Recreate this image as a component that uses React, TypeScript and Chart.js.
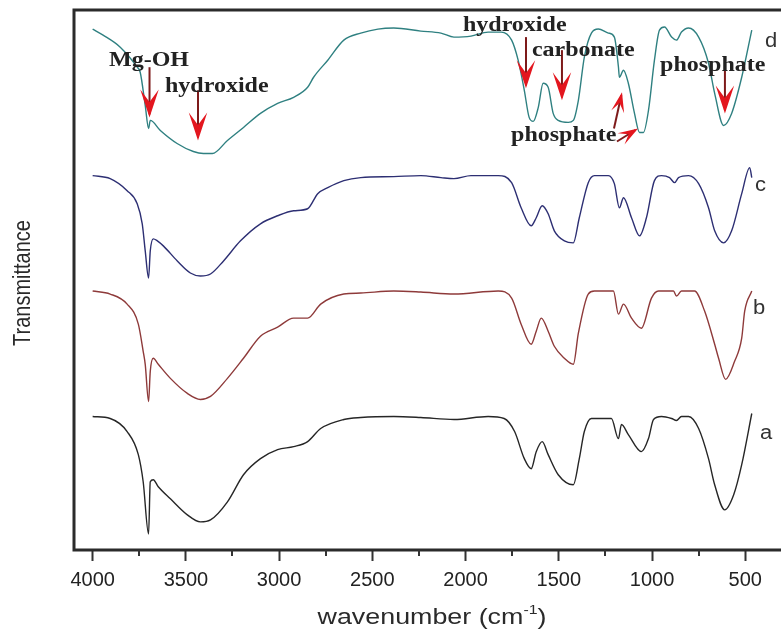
import React, { useEffect, useRef } from 'react';
import { Chart, registerables } from 'chart.js';

Chart.register(...registerables);

// FTIR spectra: wavenumber (cm-1) and offset transmittance for samples a–d
const wavenumberA = [4000, 3906, 3815, 3755, 3729, 3700, 3691, 3675, 3648, 3583, 3492, 3422, 3368, 3277, 3191, 3100, 3008, 2922, 2847, 2777, 2653, 2562, 2385, 2240, 2062, 1879, 1793, 1737, 1685, 1648, 1621, 1589, 1557, 1503, 1422, 1390, 1363, 1325, 1218, 1180, 1164, 1127, 1057, 1019, 992, 949, 895, 869, 842, 804, 750, 697, 664, 610, 562, 519, 465];
const transA = [26.6, 26.2, 23.6, 19, 13.6, 3.2, 13.6, 14, 12.6, 10.2, 7, 5.6, 6, 9.6, 15, 18.2, 20, 20.6, 21.6, 24.2, 26, 26.4, 26.6, 26.4, 26, 26.6, 26.2, 23.6, 18.2, 16.2, 19.6, 21.6, 19, 15, 13, 18.2, 23.6, 26.2, 26.2, 22.2, 25, 23, 19.6, 22.2, 26, 26.6, 26.2, 25.8, 26.6, 26.6, 24.2, 18.2, 13, 8, 11, 17, 27.2];

const wavenumberB = [4000, 3906, 3815, 3755, 3729, 3718, 3700, 3691, 3675, 3648, 3583, 3492, 3422, 3368, 3277, 3191, 3100, 3008, 2922, 2847, 2777, 2653, 2562, 2385, 2240, 2062, 1825, 1753, 1702, 1648, 1621, 1594, 1557, 1524, 1470, 1422, 1395, 1342, 1309, 1207, 1180, 1153, 1110, 1057, 1003, 965, 885, 869, 842, 772, 718, 664, 643, 605, 557, 519, 503, 465];
const transB = [51.6, 51, 49, 45, 39.6, 37, 29.6, 35.6, 38.2, 37, 34.2, 31.2, 30, 30.6, 34.2, 38.2, 42.6, 44.4, 46.2, 46.2, 49, 51, 51.2, 51.6, 51.4, 51, 51.6, 50.2, 45, 41, 43.6, 46.2, 43.6, 40.6, 38.2, 37, 43.2, 51, 51.6, 51.6, 47, 49, 46.2, 44.2, 50.2, 51.6, 51.6, 50.6, 51.6, 51.6, 47.6, 41, 38.2, 34, 37.6, 42.2, 47.6, 51.6];

const wavenumberC = [4000, 3906, 3815, 3761, 3734, 3718, 3700, 3691, 3675, 3653, 3621, 3546, 3476, 3422, 3368, 3298, 3207, 3100, 3008, 2922, 2847, 2793, 2739, 2653, 2562, 2385, 2240, 2132, 2062, 1971, 1825, 1753, 1702, 1648, 1621, 1589, 1557, 1524, 1470, 1422, 1390, 1342, 1309, 1234, 1202, 1175, 1153, 1110, 1067, 1030, 987, 949, 906, 879, 858, 804, 750, 697, 664, 616, 573, 519, 476, 465];
const transC = [74.6, 74, 71.6, 69, 65, 59.6, 54.2, 59.6, 62, 61.6, 60.6, 57.6, 55.2, 54.6, 55, 57.6, 61.6, 65, 66.6, 67.6, 68, 71, 72.2, 73.6, 74.2, 74.4, 74.6, 74.2, 74, 74.6, 74.6, 73.2, 68.2, 64.6, 66.2, 68.6, 67, 63.6, 61.6, 61.2, 66.2, 73.2, 74.6, 74.6, 73, 68.2, 70.2, 66.2, 62.6, 66.2, 73.6, 74.6, 74.2, 73.2, 74.2, 74.6, 73, 68.2, 63.6, 61.2, 63.6, 71, 76.2, 74.2];

const wavenumberD = [4000, 3944, 3852, 3761, 3745, 3718, 3700, 3691, 3637, 3547, 3460, 3406, 3358, 3277, 3191, 3100, 3008, 2922, 2847, 2815, 2739, 2653, 2562, 2470, 2385, 2240, 2132, 2062, 1971, 1879, 1809, 1753, 1718, 1685, 1659, 1637, 1610, 1584, 1557, 1530, 1503, 1449, 1422, 1395, 1363, 1325, 1288, 1234, 1202, 1180, 1175, 1153, 1127, 1094, 1067, 1046, 1019, 987, 960, 933, 895, 869, 842, 804, 750, 697, 664, 616, 573, 519, 465];
const transD = [103.8, 102.6, 100.2, 96.2, 95.2, 88.6, 84, 85.6, 83.6, 81, 79.4, 79, 79, 81.6, 84.2, 87, 89, 90.2, 92.2, 94.2, 97.6, 101.6, 103, 103.8, 104, 103.4, 103, 102.2, 102.4, 103.2, 103.2, 101.6, 97.6, 91.6, 86.2, 85.4, 88.2, 93, 92.2, 87, 85.6, 85.2, 85.6, 89.6, 98.2, 103, 103.8, 103, 102.2, 96.2, 94.2, 95.6, 93, 87, 83.2, 83.2, 87.6, 97.6, 103.6, 104.2, 102.2, 101.6, 103.2, 104, 102.2, 97, 91, 84.6, 87, 94.2, 103.6];

const sampleNames = ['a', 'b', 'c', 'd'];
const majorTicks = [4000, 3500, 3000, 2500, 2000, 1500, 1000, 500];
const minorTicks = [3750, 3250, 2750, 2250, 1750, 1250, 750];

const seriesColors = ['#262626', '#8e3a3a', '#2d2f73', '#2f8081'];

// Sample letters at the right end of each trace (wavenumber, transmittance baseline)
const sampleLabelSpots = [
  { w: 421, v: 22.2 },
  { w: 458, v: 47 },
  { w: 448, v: 71.6 },
  { w: 394, v: 100.2 },
];

// Band assignments on trace d
const bandNotes = [
  { text: 'Mg-OH', w: 3912, v: 96.4 },
  { text: 'hydroxide', w: 3612, v: 91.2 },
  { text: 'hydroxide', w: 2014, v: 103.4 },
  { text: 'carbonate', w: 1644, v: 98.4 },
  { text: 'phosphate', w: 957, v: 95.4 },
  { text: 'phosphate', w: 1756, v: 81.4 },
];

const bandArrows = [
  { from: [3695, 96.2], to: [3695, 86.2], head: 28 },
  { from: [3435, 91.6], to: [3435, 81.6], head: 28 },
  { from: [1676, 102.2], to: [1676, 92], head: 28 },
  { from: [1483, 99.6], to: [1483, 89.6], head: 28 },
  { from: [609, 95.6], to: [609, 87], head: 28 },
  { from: [1204, 84], to: [1161, 91.2], head: 20 },
  { from: [1188, 81.4], to: [1075, 84], head: 20 },
];

const SANS = '"Liberation Sans", Arial, sans-serif';
const SERIF = '"Liberation Serif", "Times New Roman", serif';

function stretchedText(ctx: CanvasRenderingContext2D, text: string, x: number, y: number, sx: number) {
  ctx.save();
  ctx.translate(x, y);
  ctx.scale(sx, 1);
  ctx.fillText(text, 0, 0);
  ctx.restore();
}

function drawArrow(ctx: CanvasRenderingContext2D, x0: number, y0: number, x1: number, y1: number, head: number) {
  const ang = Math.atan2(y1 - y0, x1 - x0);
  const half = head * 0.33;
  ctx.save();
  ctx.strokeStyle = '#7e1a1a';
  ctx.lineWidth = 2;
  ctx.beginPath();
  ctx.moveTo(x0, y0);
  ctx.lineTo(x1 - Math.cos(ang) * 3, y1 - Math.sin(ang) * 3);
  ctx.stroke();
  ctx.translate(x1, y1);
  ctx.rotate(ang);
  ctx.fillStyle = '#e3161e';
  ctx.beginPath();
  ctx.moveTo(0, 0);
  ctx.lineTo(-head, -half);
  ctx.lineTo(-head * 0.55, 0);
  ctx.lineTo(-head, half);
  ctx.closePath();
  ctx.fill();
  ctx.restore();
}

const decorations = {
  id: 'decorations',
  afterDatasetsDraw(chart: any) {
    const { ctx, chartArea, scales } = chart;
    const x = scales.x;
    const y = scales.y;
    ctx.save();

    // plot frame
    ctx.strokeStyle = '#2b2b2b';
    ctx.lineWidth = 3;
    ctx.beginPath();
    ctx.rect(chartArea.left, chartArea.top, chartArea.right - chartArea.left, chartArea.bottom - chartArea.top);
    ctx.stroke();

    // minor ticks
    ctx.strokeStyle = '#333';
    ctx.lineWidth = 2;
    ctx.beginPath();
    minorTicks.forEach((v) => {
      const px = Math.round(x.getPixelForValue(v));
      ctx.moveTo(px, chartArea.bottom);
      ctx.lineTo(px, chartArea.bottom + 6);
    });
    ctx.stroke();

    // band arrows
    bandArrows.forEach((a) => {
      drawArrow(
        ctx,
        x.getPixelForValue(a.from[0]), y.getPixelForValue(a.from[1]),
        x.getPixelForValue(a.to[0]), y.getPixelForValue(a.to[1]),
        a.head,
      );
    });

    // band labels
    ctx.fillStyle = '#222';
    ctx.font = `bold 20px ${SERIF}`;
    ctx.textAlign = 'left';
    ctx.textBaseline = 'alphabetic';
    bandNotes.forEach((n) => {
      stretchedText(ctx, n.text, x.getPixelForValue(n.w), y.getPixelForValue(n.v), 1.2);
    });

    // sample letters
    ctx.fillStyle = '#333';
    ctx.font = `20px ${SANS}`;
    sampleLabelSpots.forEach((s, i) => {
      stretchedText(ctx, sampleNames[i], x.getPixelForValue(s.w), y.getPixelForValue(s.v), 1.1);
    });

    // x-axis title with superscript
    const sx = 1.22;
    ctx.fillStyle = '#2a2a2a';
    const main = 'wavenumber (cm';
    const sup = '-1';
    const close = ')';
    ctx.font = `22px ${SANS}`;
    const wMain = ctx.measureText(main).width;
    const wClose = ctx.measureText(close).width;
    ctx.font = `13px ${SANS}`;
    const wSup = ctx.measureText(sup).width;
    const total = (wMain + wSup + wClose) * sx;
    const cx = (chartArea.left + chartArea.right) / 2;
    let tx = cx - total / 2;
    const base = chartArea.bottom + 74;
    ctx.font = `22px ${SANS}`;
    stretchedText(ctx, main, tx, base, sx);
    tx += wMain * sx;
    ctx.font = `13px ${SANS}`;
    stretchedText(ctx, sup, tx, base - 10, sx);
    tx += wSup * sx;
    ctx.font = `22px ${SANS}`;
    stretchedText(ctx, close, tx, base, sx);

    // y-axis title
    ctx.save();
    ctx.translate(chartArea.left - 50, (chartArea.top + chartArea.bottom) / 2 + 3);
    ctx.rotate(-Math.PI / 2);
    ctx.scale(1, 1.15);
    ctx.font = `20px ${SANS}`;
    ctx.textAlign = 'center';
    ctx.textBaseline = 'middle';
    ctx.fillStyle = '#2a2a2a';
    ctx.fillText('Transmittance', 0, 0);
    ctx.restore();

    ctx.restore();
  },
};

export default function App() {
  const canvasRef = useRef<HTMLCanvasElement | null>(null);

  useEffect(() => {
    const canvas = canvasRef.current;
    if (!canvas) return;
    const xs = [wavenumberA, wavenumberB, wavenumberC, wavenumberD];
    const ys = [transA, transB, transC, transD];
    const chart = new Chart(canvas, {
      type: 'line',
      data: {
        datasets: xs.map((wn, i) => ({
          label: sampleNames[i],
          data: wn.map((w, j) => ({ x: w, y: ys[i][j] })),
          borderColor: seriesColors[i],
          borderWidth: 1.4,
          pointRadius: 0,
          fill: false,
          cubicInterpolationMode: 'monotone' as const,
        })),
      },
      options: {
        animation: false,
        responsive: false,
        devicePixelRatio: 1,
        layout: { padding: { left: 74, top: 10, right: 10, bottom: 31 } },
        plugins: { legend: { display: false }, tooltip: { enabled: false } },
        scales: {
          x: {
            type: 'linear',
            reverse: true,
            min: 260,
            max: 4100,
            afterBuildTicks: (scale: any) => {
              scale.ticks = majorTicks.map((v) => ({ value: v }));
            },
            border: { display: false },
            grid: {
              display: true,
              drawOnChartArea: false,
              drawTicks: true,
              tickLength: 11,
              tickWidth: 2,
              tickColor: '#333',
            },
            ticks: {
              autoSkip: false,
              maxRotation: 0,
              padding: 7,
              color: '#222',
              font: { family: SANS, size: 20 },
              callback: (v: any) => String(v),
            },
          },
          y: { display: false, min: 0, max: 107.6 },
        },
      },
      plugins: [decorations],
    });
    return () => chart.destroy();
  }, []);

  return (
    <div style={{ position: 'fixed', left: 0, top: 0, width: 781, height: 630, overflow: 'hidden', background: '#fff' }}>
      <canvas ref={canvasRef} width={800} height={630} style={{ display: 'block', width: 800, height: 630 }} />
    </div>
  );
}
